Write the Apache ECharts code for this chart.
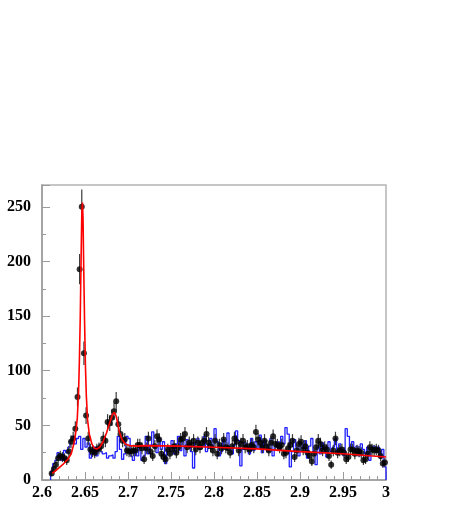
<!DOCTYPE html>
<html>
<head>
<meta charset="utf-8">
<script src="https://cdn.jsdelivr.net/npm/echarts@6/dist/echarts.min.js"></script>
<style>
  html, body { margin: 0; padding: 0; background: #fff; }
  #chart { width: 463px; height: 518px; }
</style>
</head>
<body>
<div id="chart"></div>
<script>
// histogram binning: 0.0025 wide bins starting at 2.6, data from bin 4 on
const binLow = 2.6
const binWidth = 0.0025
const firstBin = 4

// data (black points)
const dataCounts = [
  6, 10, 14, 20, 22, 21, 20, 18, 26, 35, 38, 47, 76,
  193, 250, 116, 59, 38, 28, 26, 25, 28, 29, 31, 38, 36,
  53, 52, 57, 63, 72, 51, 42, 36, 37, 27, 26, 26, 27,
  27, 32, 32, 29, 19, 29, 38, 26, 22, 31, 40, 37, 24,
  21, 19, 28, 24, 28, 31, 25, 30, 37, 38, 42, 30, 34,
  32, 36, 28, 34, 30, 34, 36, 42, 34, 31, 27, 36, 24,
  32, 29, 37, 30, 29, 25, 31, 38, 35, 27, 33, 36, 30,
  31, 28, 32, 30, 44, 37, 34, 30, 36, 31, 27, 34, 40,
  33, 32, 30, 32, 24, 25, 29, 32, 36, 21, 27, 33, 35,
  28, 31, 25, 22, 17, 24, 30, 36, 33, 27, 30, 28, 22,
  14, 27, 38, 25, 27, 28, 25, 19, 21, 28, 28, 24, 27,
  26, 25, 18, 19, 24, 30, 28, 27, 28, 27, 22, 15, 16
]

// blue histogram
const blueCounts = [
  8, 15, 18, 25, 22, 18, 27, 25, 30, 36, 40, 33, 38,
  40, 28, 38, 30, 34, 20, 24, 30, 22, 28, 26, 24, 25,
  20, 22, 23, 20, 26, 40, 28, 19, 24, 40, 38, 22, 18,
  28, 22, 30, 18, 22, 40, 24, 32, 44, 30, 25, 38, 28,
  35, 15, 28, 30, 36, 24, 33, 40, 27, 35, 22, 37, 30,
  26, 11, 34, 38, 28, 31, 40, 26, 33, 38, 30, 47, 35,
  22, 26, 37, 30, 43, 29, 24, 32, 45, 36, 13, 28, 34,
  31, 24, 38, 27, 35, 30, 41, 25, 36, 32, 26, 38, 22,
  30, 35, 28, 40, 33, 48, 42, 12, 26, 37, 30, 22, 34,
  29, 36, 20, 31, 38, 27, 14, 30, 24, 34, 28, 21, 35,
  26, 30, 38, 24, 33, 28, 22, 47, 40, 30, 35, 26, 31,
  22, 33, 28, 24, 30, 18, 27, 31, 25, 30, 20, 28, 12
]

// fit curve (red)
const fitX = [
  2.612, 2.618, 2.624, 2.630, 2.634, 2.637, 2.639, 2.641, 2.6425, 2.6435,
  2.6445, 2.6455, 2.6463, 2.6470, 2.6477, 2.6485, 2.6495, 2.6505, 2.6515, 2.653,
  2.655, 2.658, 2.661, 2.664, 2.667, 2.671, 2.675, 2.679, 2.682, 2.684,
  2.686, 2.688, 2.690, 2.693, 2.697, 2.702, 2.710, 2.720, 2.760, 2.800,
  2.850, 2.900, 2.950, 3.000
]
const fitY = [
  6, 10, 14, 19, 24, 33, 42, 56, 80, 110,
  150, 205, 245, 254, 240, 195, 145, 105, 78, 55,
  42, 33, 29, 28.5, 30, 35, 43, 53, 60, 62,
  59, 52, 44, 37, 33, 31.5, 31, 31.5, 31, 30,
  28.5, 26, 24, 21
]

const fontFamily = '"Liberation Serif", "DejaVu Serif", serif'

const chart = echarts.init(document.getElementById('chart'))

const points = dataCounts.map((n, i) => [binLow + (firstBin + i + 0.5) * binWidth, n, Math.sqrt(n)])

// histogram outline through bin low edges, closed to zero at both ends
const histLine = [[binLow + firstBin * binWidth, 0]]
blueCounts.forEach((n, i) => histLine.push([binLow + (firstBin + i) * binWidth, n]))
const histEnd = binLow + (firstBin + blueCounts.length) * binWidth
histLine.push([histEnd, blueCounts[blueCounts.length - 1]])
histLine.push([histEnd, 0])

const fitLine = fitX.map((x, i) => [x, fitY[i]])

const axisColor = '#9a9a9a'

const option = {
  animation: false,
  backgroundColor: '#fff',
  grid: {
    left: 42, right: 77, top: 185, bottom: 38,
    show: true, borderColor: '#b4b4b4', borderWidth: 1.5
  },
  xAxis: {
    type: 'value',
    min: 2.6,
    max: 3,
    interval: 0.05,
    axisLine: { lineStyle: { color: axisColor, width: 1.5 } },
    axisTick: { inside: true, length: 8, lineStyle: { color: axisColor } },
    minorTick: { show: true, splitNumber: 5, length: 4, lineStyle: { color: axisColor } },
    splitLine: { show: false },
    axisLabel: {
      margin: 5,
      color: '#000',
      fontFamily: fontFamily,
      fontWeight: 'bold',
      fontSize: 16,
      formatter: v => String(parseFloat(v.toFixed(2)))
    }
  },
  yAxis: {
    type: 'value',
    min: 0,
    max: 270,
    interval: 50,
    axisLine: { show: true, lineStyle: { color: axisColor, width: 1.5 } },
    axisTick: { show: true, inside: true, length: 8, lineStyle: { color: axisColor } },
    minorTick: { show: true, splitNumber: 2, length: 4, lineStyle: { color: axisColor } },
    splitLine: { show: false },
    axisLabel: {
      margin: 11,
      color: '#000',
      fontFamily: fontFamily,
      fontWeight: 'bold',
      fontSize: 16,
      showMaxLabel: false
    }
  },
  series: [
    {
      name: 'hist',
      type: 'line',
      step: 'end',
      data: histLine,
      showSymbol: false,
      symbol: 'none',
      lineStyle: { color: '#1f1fff', width: 1.3 },
      z: 1
    },
    {
      name: 'errors',
      type: 'custom',
      data: points,
      renderItem: (params, api) => {
        const x = api.value(0)
        const y = api.value(1)
        const e = api.value(2)
        const lo = api.coord([x, y - e])
        const hi = api.coord([x, y + e])
        return {
          type: 'line',
          shape: { x1: lo[0], y1: lo[1], x2: hi[0], y2: hi[1] },
          style: { stroke: '#3a3a3a', lineWidth: 1.2 }
        }
      },
      z: 2
    },
    {
      name: 'data',
      type: 'scatter',
      data: points,
      symbol: 'circle',
      symbolSize: 6,
      itemStyle: { color: '#000' },
      z: 3
    },
    {
      name: 'fit',
      type: 'line',
      data: fitLine,
      showSymbol: false,
      symbol: 'none',
      smooth: false,
      lineStyle: { color: '#ff0000', width: 1.6 },
      z: 4
    }
  ]
}

chart.setOption(option)
</script>
</body>
</html>
